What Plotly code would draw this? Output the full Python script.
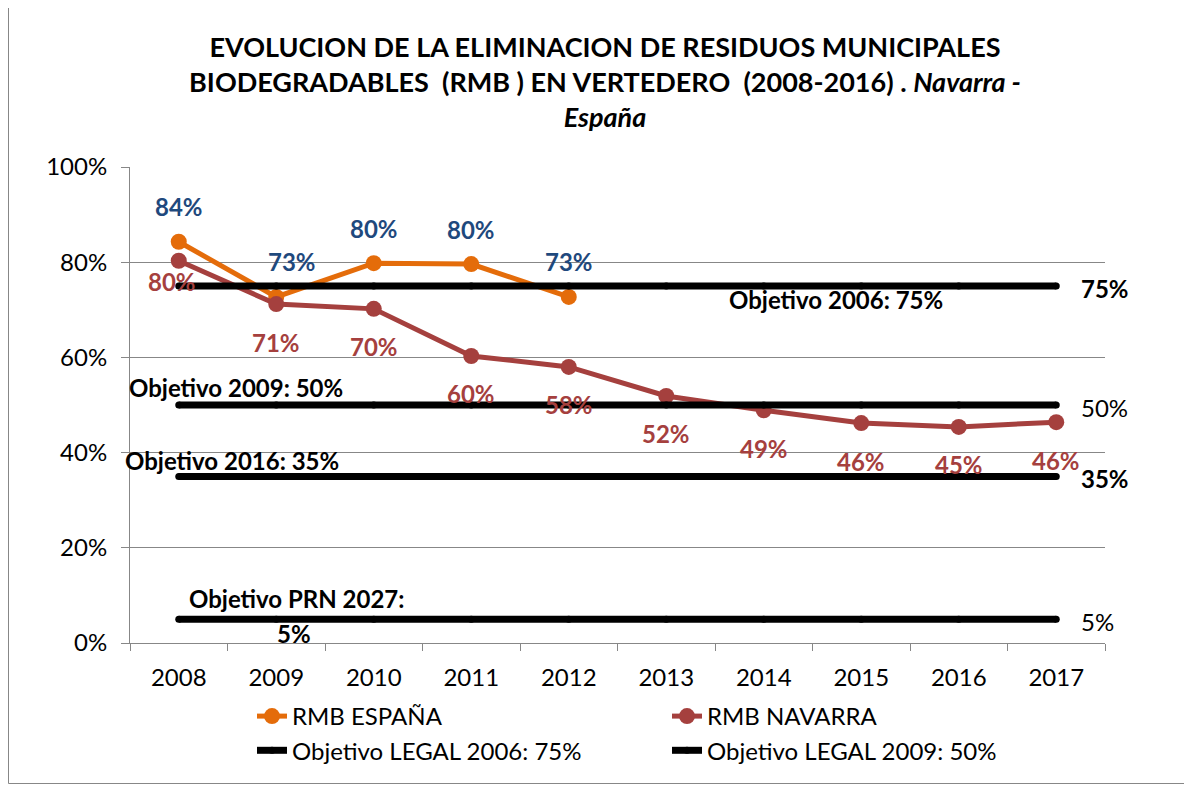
import plotly.graph_objects as go

# ---------------- data ----------------
years = ["2008", "2009", "2010", "2011", "2012", "2013", "2014", "2015", "2016", "2017"]
espana_years = ["2008", "2009", "2010", "2011", "2012"]
espana = [84.3, 72.7, 79.8, 79.6, 72.7]
navarra = [80.3, 71.2, 70.2, 60.3, 58.0, 51.9, 48.9, 46.2, 45.4, 46.4]

obj_values = [75, 50, 35, 5]
obj_names = ["Objetivo LEGAL 2006: 75%", "Objetivo LEGAL 2009: 50%",
             "Objetivo 2016: 35%", "Objetivo PRN 2027: 5%"]
obj_in_legend = [True, True, False, False]
obj_end_bold = [True, False, True, False]
obj_notes = ["Objetivo 2006: 75%", "Objetivo 2009: 50%", "Objetivo 2016: 35%",
             "Objetivo PRN 2027:"]

y_ticks = [0, 20, 40, 60, 80, 100]
y_ticktext = ["0%", "20%", "40%", "60%", "80%", "100%"]

title_text = ("EVOLUCION DE LA ELIMINACION DE RESIDUOS MUNICIPALES<br>"
              "BIODEGRADABLES  (RMB ) EN VERTEDERO  (2008-2016) . <i>Navarra -</i><br>"
              "<i>España</i>")

# ---------------- style ----------------
FONT = "Lato"
ORANGE = "#E46C0A"
RED = "#A5403E"
BLUE = "#1F497D"
GRID = "#878787"
FS = 24

# the page body has an 8px margin: figure is drawn 8px right/down
OFF = 8
W, H = 1192 - OFF, 785 - OFF
PLOT_L, PLOT_R, PLOT_T, PLOT_B = 130, 1105, 167, 643   # in window pixels
L, T = PLOT_L - OFF, PLOT_T - OFF
R, B = 1192 - PLOT_R, 785 - PLOT_B
PW, PH = PLOT_R - PLOT_L, PLOT_B - PLOT_T


def px_x(X):
    return (X - PLOT_L) / PW


def px_y(Y):
    return (PLOT_B - Y) / PH


fig = go.Figure()

fig.add_trace(go.Scatter(
    x=espana_years, y=espana, name="RMB ESPAÑA", mode="lines+markers",
    line=dict(color=ORANGE, width=5), marker=dict(color=ORANGE, size=16),
))
fig.add_trace(go.Scatter(
    x=years, y=navarra, name="RMB NAVARRA", mode="lines+markers",
    line=dict(color=RED, width=5), marker=dict(color=RED, size=16),
))
for v, name, show in zip(obj_values, obj_names, obj_in_legend):
    fig.add_trace(go.Scatter(
        x=years, y=[v] * len(years), name=name, mode="lines+markers",
        showlegend=show,
        line=dict(color="black", width=7), marker=dict(color="black", size=7),
    ))

annotations = []
# data labels España (above)
esp_shift = {1: 16}
for i, v in enumerate(espana):
    annotations.append(dict(
        x=i, y=v, xref="x", yref="y", text=f"{v:.0f}%", showarrow=False,
        yshift=35, xshift=esp_shift.get(i, 0), yanchor="middle", xanchor="center",
        font=dict(family=FONT, size=FS, color=BLUE, weight="bold"),
    ))
# data labels Navarra (below)
nav_shift = {0: (-7, -21)}
for i, v in enumerate(navarra):
    xs, ys = nav_shift.get(i, (0, -38))
    annotations.append(dict(
        x=i, y=v, xref="x", yref="y", text=f"{v:.0f}%", showarrow=False,
        yshift=ys, xshift=xs, yanchor="middle", xanchor="center",
        font=dict(family=FONT, size=FS, color=RED, weight="bold"),
    ))
# right-hand end labels of objective lines
for v, bold in zip(obj_values, obj_end_bold):
    annotations.append(dict(
        x=px_x(1079), y=v, xref="paper", yref="y", xanchor="left", yanchor="middle",
        text=f"{v}%", showarrow=False, yshift=-2,
        font=dict(family=FONT, size=FS, color="black",
                  weight="bold" if bold else "normal"),
    ))
# objective notes
note_pos = [(836, 299, "center"), (127, 387, "left"), (123, 460, "left"), (187, 598, "left")]
for txt, (X, Y, anc) in zip(obj_notes, note_pos):
    annotations.append(dict(
        x=px_x(X), y=px_y(Y), xref="paper", yref="paper", xanchor=anc, yanchor="middle",
        text=txt, showarrow=False,
        font=dict(family=FONT, size=FS, color="black", weight="bold"),
    ))
annotations.append(dict(
    x=px_x(294), y=px_y(633), xref="paper", yref="paper", xanchor="center", yanchor="middle",
    text=f"{obj_values[3]}%", showarrow=False,
    font=dict(family=FONT, size=FS, color="black", weight="bold"),
))

fig.update_layout(
    width=W, height=H,
    margin=dict(l=L, r=R, t=T, b=B),
    paper_bgcolor="white", plot_bgcolor="white",
    title=dict(text=title_text, x=px_x(605), xref="paper", xanchor="center",
               y=1 - 49 / H, yanchor="top", yref="container",
               font=dict(family=FONT, size=27, color="black", weight="bold")),
    font=dict(family=FONT, size=FS, color="black"),
    showlegend=True,
    legend=dict(orientation="h", x=px_x(252), xanchor="left",
                y=px_y(694), yanchor="top", entrywidth=370,
                font=dict(family=FONT, size=FS, color="black"),
                bgcolor="rgba(0,0,0,0)"),
    annotations=annotations,
    shapes=[dict(type="rect", xref="paper", yref="paper",
                 x0=px_x(8.5), x1=px_x(1187.5), y0=px_y(783.5), y1=px_y(5),
                 line=dict(color=GRID, width=1), layer="below")],
)
fig.update_xaxes(
    type="category", categoryorder="array", categoryarray=years,
    range=[-0.5, 9.5], showline=True, linecolor=GRID, linewidth=1,
    ticks="outside", tickson="boundaries", ticklen=7, tickcolor=GRID,
    showgrid=False, tickfont=dict(family=FONT, size=FS, color="black"),
    ticklabelstandoff=13,
)
fig.update_yaxes(
    range=[0, 100], tickmode="array", tickvals=y_ticks, ticktext=y_ticktext,
    showline=True, linecolor=GRID, linewidth=1,
    ticks="outside", ticklen=8, tickcolor=GRID,
    showgrid=True, gridcolor=GRID, gridwidth=1, zeroline=False,
    tickfont=dict(family=FONT, size=FS, color="black"),
    ticklabelstandoff=9,
)

fig.write_html("out.html")
